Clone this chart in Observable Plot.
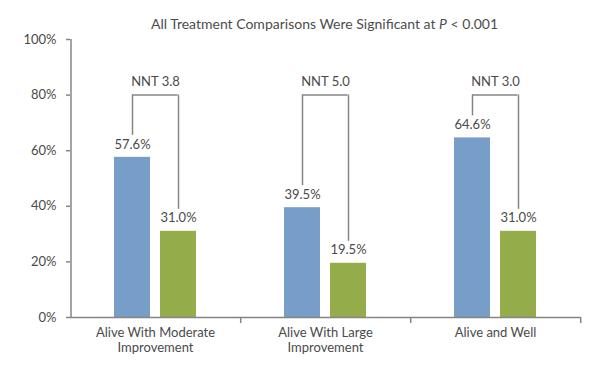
<!DOCTYPE html>
<html>
<head>
<meta charset="utf-8">
<script src="https://cdn.jsdelivr.net/npm/d3@7"></script>
<script src="https://cdn.jsdelivr.net/npm/@observablehq/plot@0.6"></script>
<style>
  body { margin: 0; background: #fff; font-family: Lato, "Noto Sans", sans-serif; }
  #wrap { width: 600px; }
  #title { height: 14px; padding-top: 17px; line-height: 14px; font-size: 14px; color: #4d4d4d;
           margin-left: 69px; width: 511px; text-align: center; }
  #chart { margin-top: -1px; }
</style>
</head>
<body>
<div id="wrap">
  <div id="title">All Treatment Comparisons Were Significant at <i>P</i> &lt; 0.001</div>
  <div id="chart"></div>
</div>
<script>
const categories = ["Alive With Moderate Improvement", "Alive With Large Improvement", "Alive and Well"];
const categoryLabels = ["Alive With Moderate\nImprovement", "Alive With Large\nImprovement", "Alive and Well"];
const seriesNames = ["Treatment", "Control"];
const treatment = [57.6, 39.5, 64.6];
const control = [31.0, 19.5, 31.0];
const nnt = [3.8, 5.0, 3.0];
const bracketLevel = 80;
const yTicks = [0, 20, 40, 60, 80, 100];

const rows = categories.flatMap((c, i) => [
  {category: c, series: seriesNames[0], value: treatment[i]},
  {category: c, series: seriesNames[1], value: control[i]}
]);
const nntRows = categories.map((c, i) => ({category: c, nnt: nnt[i]}));

const textColor = "#4a4a4a";
const lineColor = "#858585";

const chart = Plot.plot({
  width: 600,
  height: 340,
  marginLeft: 69,
  marginRight: 20,
  marginTop: 9,
  marginBottom: 53,
  style: {fontFamily: "Lato, 'Noto Sans', sans-serif", fontSize: "13px", color: textColor, background: "#fff"},
  fx: {domain: categories, padding: 0, label: null},
  x: {domain: seriesNames, paddingInner: 0.21, paddingOuter: 0.92, axis: null},
  y: {domain: [0, 100], label: null},
  color: {domain: seriesNames, range: ["#769ec9", "#95ac4b"]},
  marks: [
    Plot.barY(rows, {fx: "category", x: "series", y: "value", fill: "series"}),
    Plot.text(rows, {fx: "category", x: "series", y: "value", text: d => d.value.toFixed(1) + "%",
      dy: -13, fill: textColor, fontSize: 13}),
    Plot.ruleX(rows, {fx: "category", x: "series", y1: () => bracketLevel, y2: "value",
      insetBottom: 22, stroke: lineColor, strokeWidth: 1.5}),
    Plot.ruleY(nntRows, {fx: "category", y: () => bracketLevel, x1: () => seriesNames[0], x2: () => seriesNames[1],
      insetLeft: 18, insetRight: 18.5, stroke: lineColor, strokeWidth: 1.5}),
    Plot.text(nntRows, {fx: "category", y: () => bracketLevel, text: d => "NNT " + d.nnt.toFixed(1),
      dy: -13, fill: textColor, fontSize: 13}),
    Plot.ruleY([0], {stroke: lineColor, strokeWidth: 1.5}),
    Plot.ruleX([categories[0]], {fx: d => d, x: () => seriesNames[0], y1: () => yTicks[0], y2: () => yTicks[yTicks.length - 1],
      dx: -61.5, stroke: lineColor, strokeWidth: 1.5}),
    Plot.axisY({ticks: yTicks, tickFormat: d => d + "%", tickSize: 4, tickPadding: 10,
      stroke: lineColor, strokeWidth: 1.5, fill: textColor, fontSize: 13, label: null}),
    Plot.axisFx({anchor: "bottom", tickSize: 0, tickPadding: 9, tickFormat: d => categoryLabels[categories.indexOf(d)],
      lineHeight: 1.15, fill: textColor, fontSize: 13, label: null}),
    Plot.axisFx({anchor: "bottom", tickSize: 6, tickFormat: () => "", dx: 85.2, stroke: lineColor, strokeWidth: 1.5, label: null})
  ]
});
document.getElementById("chart").appendChild(chart);
</script>
</body>
</html>
